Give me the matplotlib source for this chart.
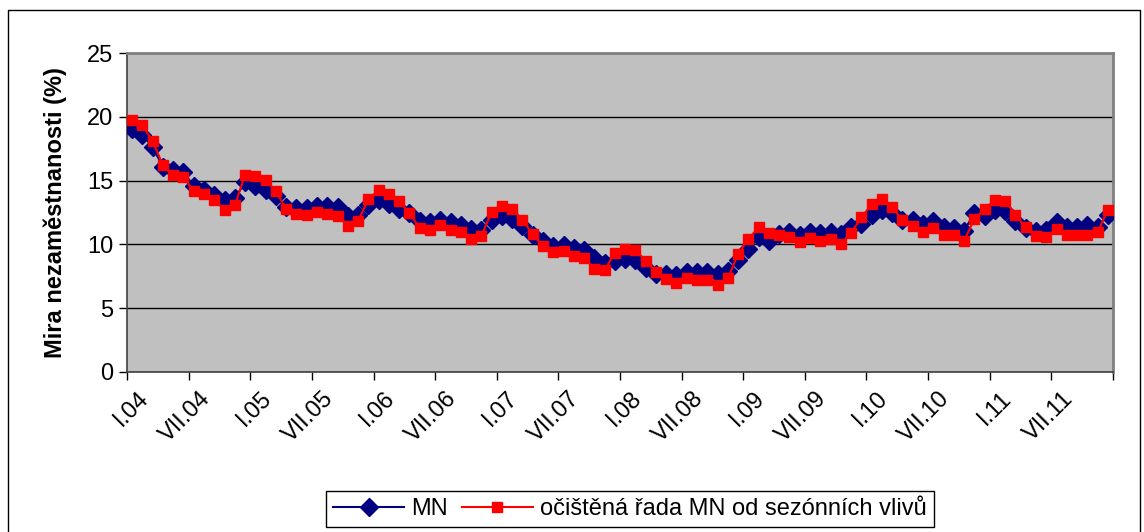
import numpy as np
import matplotlib
matplotlib.use("Agg")
import matplotlib.pyplot as plt
from matplotlib.lines import Line2D

plt.rcParams['font.family'] = ['Liberation Sans', 'DejaVu Sans']

# monthly data I.04 - XII.11
tick_labels = ["I.04", "VII.04", "I.05", "VII.05", "I.06", "VII.06", "I.07", "VII.07",
               "I.08", "VII.08", "I.09", "VII.09", "I.10", "VII.10", "I.11", "VII.11"]

mn = [19.05, 18.6, 17.6, 16.1, 15.8, 15.7, 14.55, 14.3, 13.9, 13.5, 13.63, 14.86, 14.6, 14.3, 13.76, 12.9,
      12.85, 12.85, 13.03, 12.98, 12.9, 12.19, 12.32, 13.1, 13.45, 13.19, 12.77, 12.5, 11.8, 11.72, 11.93, 11.72,
      11.54, 11.2, 11.15, 11.93, 12.19, 12.0, 11.46, 10.75, 10.23, 9.9, 9.97, 9.7, 9.58, 8.92, 8.53, 8.66,
      8.84, 8.79, 8.14, 7.69, 7.69, 7.61, 7.87, 7.8, 7.8, 7.69, 7.95, 8.74, 9.63, 10.57, 10.23, 10.8,
      11.0, 10.75, 11.0, 10.88, 11.0, 10.83, 11.4, 11.62, 12.32, 12.72, 12.45, 11.93, 11.93, 11.62, 11.8, 11.36,
      11.28, 11.07, 12.45, 12.19, 12.66, 12.58, 11.8, 11.28, 11.07, 11.15, 11.75, 11.33, 11.33, 11.54, 11.4, 12.32]

mn_sa = [19.78, 19.33, 18.1, 16.2, 15.4, 15.28, 14.15, 13.95, 13.5, 12.7, 13.05, 15.46, 15.38, 15.07, 14.15, 12.77,
         12.4, 12.32, 12.53, 12.4, 12.24, 11.46, 11.8, 13.58, 14.23, 13.95, 13.37, 12.45, 11.28, 11.15, 11.54, 11.15,
         11.0, 10.4, 10.67, 12.53, 12.98, 12.8, 11.93, 10.8, 9.84, 9.37, 9.5, 9.1, 8.97, 8.08, 8.0, 9.3,
         9.63, 9.58, 8.71, 7.82, 7.27, 7.01, 7.35, 7.22, 7.22, 6.83, 7.35, 9.23, 10.44, 11.33, 10.88, 10.75,
         10.57, 10.15, 10.49, 10.28, 10.41, 10.03, 10.88, 12.12, 13.13, 13.55, 12.92, 11.88, 11.48, 11.0, 11.28, 10.7,
         10.7, 10.28, 11.98, 12.77, 13.5, 13.42, 12.32, 11.33, 10.62, 10.57, 11.2, 10.7, 10.7, 10.75, 10.96, 12.72]

x = np.arange(len(mn))

fig = plt.figure(figsize=(11.44, 5.32), dpi=100)
ax = fig.add_axes([127 / 1144, 1 - 372 / 532, (1113 - 127) / 1144, (372 - 53) / 532])
ax.set_facecolor('#C0C0C0')

ax.plot(x, mn, color='#000080', lw=1.5, marker='D', markersize=9,
        markerfacecolor='#000080', markeredgecolor='#000080', zorder=3)
ax.plot(x, mn_sa, color='#FF0000', lw=1.5, marker='s', markersize=7.5,
        markerfacecolor='#FF0000', markeredgecolor='#FF0000', zorder=4)

ax.set_xlim(-0.5, len(mn) - 0.5)
ax.set_ylim(0, 25)
ax.set_yticks(np.arange(0, 26, 5))
ax.yaxis.grid(True, color='black', lw=1)
ax.set_axisbelow(True)

# tick marks at category boundaries, labels every 6 months
ax.set_xticks(np.arange(-0.5, len(mn), 6), minor=True)
ax.set_xticks(np.arange(0, len(mn), 6) + 0.5)
ax.set_xticklabels(tick_labels, rotation=45, ha='right', va='top', rotation_mode='anchor')
ax.tick_params(axis='x', which='major', length=0, labelsize=17, pad=11)
ax.tick_params(axis='x', which='minor', length=6, width=1, color='black')
ax.tick_params(axis='y', length=6, width=1, labelsize=17, pad=4)

for s in ['left', 'bottom']:
    ax.spines[s].set_color('#404040')
    ax.spines[s].set_linewidth(1.2)
for s in ['top', 'right']:
    ax.spines[s].set_color('#808080')
    ax.spines[s].set_linewidth(2)

ax.set_ylabel('Mira nezaměstnanosti (%)', fontsize=17, fontweight='bold', labelpad=14)

handles = [
    Line2D([], [], color='#000080', lw=1.5, marker='D', markersize=9, markerfacecolor='#000080'),
    Line2D([], [], color='#FF0000', lw=1.5, marker='s', markersize=7.5, markerfacecolor='#FF0000'),
]
leg = fig.legend(handles, ['MN', 'očištěná řada MN od sezónních vlivů'], loc='upper center',
                 bbox_to_anchor=(630 / 1144, 1 - 491 / 532), ncol=2, fontsize=17, frameon=True,
                 fancybox=False, edgecolor='black', framealpha=1, borderpad=0.3,
                 handlelength=3, columnspacing=0.6, handletextpad=0.3, borderaxespad=0)
leg.get_frame().set_linewidth(1)

# outer chart border
fig.add_artist(Line2D([8 / 1144, 8 / 1144, 1140 / 1144, 1140 / 1144],
                      [0, 1 - 10 / 532, 1 - 10 / 532, 0], color='black', lw=1,
                      transform=fig.transFigure))

fig.savefig('out.png', dpi=100)
